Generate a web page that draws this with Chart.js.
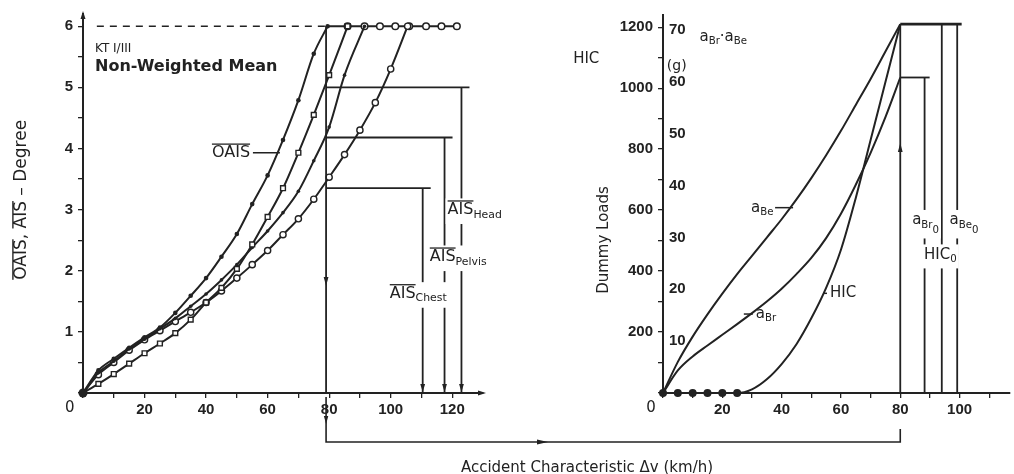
<!DOCTYPE html>
<html>
<head>
<meta charset="utf-8">
<script src="https://cdn.jsdelivr.net/npm/chart.js@4.4.1/dist/chart.umd.min.js"></script>
<style>
  html, body { margin: 0; padding: 0; background: #fff; }
  #wrap { position: relative; width: 1014px; height: 474px; overflow: hidden; }
  #left { position: absolute; left: 0; top: 0; }
  #right { position: absolute; left: 530px; top: 0; }
  #xtitle {
    position: absolute; left: 387px; width: 400px; top: 458px;
    text-align: center; font: 15px "DejaVu Sans", sans-serif; color: #222;
    line-height: 18px;
  }
</style>
</head>
<body>
<div id="wrap">
  <canvas id="left" width="530" height="474"></canvas>
  <canvas id="right" width="484" height="474"></canvas>
  <div id="xtitle">Accident Characteristic &Delta;v (km/h)</div>
</div>
<script>
// ---- left panel: mean AIS against delta-v ----
const leftDvTicks = [0, 10, 20, 30, 40, 50, 60, 70, 80, 90, 100, 110, 120];
const aisTicks = [0, 0.5, 1, 1.5, 2, 2.5, 3, 3.5, 4, 4.5, 5, 5.5, 6];

const oaisDv  = [0, 5, 10, 15, 20, 25, 30, 35, 40, 45, 50, 55, 60, 65, 70, 75, 79.5];
const oaisVal = [0, 0.37, 0.56, 0.74, 0.91, 1.07, 1.31, 1.59, 1.88, 2.23, 2.6, 3.09, 3.56, 4.14, 4.79, 5.55, 6];
const headDv  = [0, 5, 10, 15, 20, 25, 30, 35, 40, 45, 50, 55, 60, 65, 70, 75, 80, 86];
const headVal = [0, 0.15, 0.31, 0.48, 0.65, 0.81, 0.98, 1.2, 1.48, 1.72, 2.03, 2.43, 2.88, 3.35, 3.93, 4.55, 5.2, 6];
const pelvisDv  = [0, 5, 10, 15, 20, 25, 30, 35, 40, 45, 50, 55, 60, 65, 70, 75, 80, 85, 91.5];
const pelvisVal = [0, 0.33, 0.52, 0.72, 0.88, 1.05, 1.22, 1.42, 1.62, 1.85, 2.1, 2.38, 2.65, 2.95, 3.3, 3.8, 4.35, 5.2, 6];
const chestDv  = [0, 5, 10, 15, 20, 25, 30, 35, 40, 45, 50, 55, 60, 65, 70, 75, 80, 85, 90, 95, 100, 105.5];
const chestVal = [0, 0.3, 0.5, 0.7, 0.87, 1.02, 1.17, 1.32, 1.48, 1.67, 1.88, 2.1, 2.33, 2.59, 2.85, 3.17, 3.53, 3.9, 4.3, 4.75, 5.3, 6];
const topDv = [79.5, 86, 91.5, 96.5, 101.5, 106, 111.5, 116.5, 121.5];
const maxAis = 6;
const dashStartDv = 4.5;

const refDv = 79;                         // the 80 km/h marker as drawn
const aisAtRef = [5.0, 4.18, 3.35];       // head, pelvis, chest
const aisLimitDv = [123, 117.5, 110.4];

// ---- right panel: dummy loads against delta-v ----
const rightDvTicks = [0, 10, 20, 30, 40, 50, 60, 70, 80, 90, 100, 110];
const hicTicks = [0, 100, 200, 300, 400, 500, 600, 700, 800, 900, 1000, 1100, 1200];
const gTicks = [10, 20, 30, 40, 50, 60, 70];

const loadDv = [0, 5, 10, 15, 20, 25, 30, 35, 40, 45, 50, 55, 60, 65, 70, 75, 80];
const aBeVal = [0, 102, 185, 258, 326, 390, 450, 510, 570, 635, 705, 780, 860, 945, 1030, 1120, 1210];
const aBrVal = [0, 74, 120, 156, 191, 226, 262, 300, 342, 390, 443, 508, 588, 683, 788, 905, 1035];
const hicVal = [0, 0, 0, 0, 0, 0, 12, 45, 95, 160, 245, 345, 470, 640, 830, 1020, 1210];
const hicFlatPoints = 6;

const refDvRight = 80;
const limitDvRight = [88.2, 94, 99.2];    // a_Br0, HIC0, a_Be0
const limitLoad = [1035, 1210, 1210];
const hicMax = 1240;
const gMax = 72.9;

const ink = '#222';
const tickFont = { family: '"Liberation Sans", Arial, sans-serif', size: 15, weight: 'bold' };
const pts = (xs, ys) => xs.map((v, i) => ({ x: v, y: ys[i] }));
const lineDs = (data, extra) => Object.assign({
  data, showLine: true, borderColor: ink, borderWidth: 2, pointRadius: 0,
  fill: false, clip: false
}, extra);

// rich text: parts with overline / subscript
function drawRich(ctx, parts, x, y, size, weight, align, mask) {
  const fam = '"DejaVu Sans", sans-serif';
  let w = 0;
  const segs = parts.map(p => {
    const fs = p.sub ? size * 0.68 : size;
    ctx.font = `${weight} ${fs}px ${fam}`;
    const sw = ctx.measureText(p.t).width;
    const s = { p, fs, sw, off: w };
    w += sw;
    return s;
  });
  const x0 = align === 'center' ? x - w / 2 : align === 'right' ? x - w : x;
  if (mask) {
    const deepest = Math.max(0, ...parts.map(p => p.sub || 0));
    ctx.save();
    ctx.fillStyle = '#fff';
    ctx.fillRect(x0 - 2, y - size * 0.7, w + 4, size * 1.3 + deepest * size * 0.3);
    ctx.restore();
  }
  segs.forEach(s => {
    ctx.font = `${weight} ${s.fs}px ${fam}`;
    const dy = s.p.sub ? size * 0.32 * s.p.sub : 0;
    ctx.fillText(s.p.t, x0 + s.off, y + dy);
    if (s.p.over) ctx.fillRect(x0 + s.off, y - size * 0.58, s.sw, Math.max(1.2, size * 0.08));
  });
}

function arrowHead(ctx, x, y, dir, len, half) {
  ctx.beginPath();
  ctx.moveTo(x, y);
  if (dir === 'down') { ctx.lineTo(x - half, y - len); ctx.lineTo(x + half, y - len); }
  if (dir === 'up') { ctx.lineTo(x - half, y + len); ctx.lineTo(x + half, y + len); }
  if (dir === 'right') { ctx.lineTo(x - len, y - half); ctx.lineTo(x - len, y + half); }
  ctx.closePath();
  ctx.fill();
}

const notesPlugin = {
  id: 'notes',
  afterDatasetsDraw(chart, args, opts) {
    const { ctx, scales } = chart;
    ctx.save();
    ctx.textBaseline = 'middle';
    ctx.fillStyle = ink;
    ctx.strokeStyle = ink;
    (opts.items || []).forEach(n => {
      const px = scales.x.getPixelForValue(n.x);
      const py = scales.y.getPixelForValue(n.y);
      ctx.save();
      ctx.translate(px, py);
      if (n.rotate) ctx.rotate(n.rotate);
      drawRich(ctx, n.parts, 0, 0, n.size || 15, n.weight || 'normal', n.align || 'left', n.mask);
      if (n.leader) {
        ctx.lineWidth = 1.5;
        ctx.beginPath();
        ctx.moveTo(n.leader[0], 0);
        ctx.lineTo(n.leader[1], 0);
        ctx.stroke();
      }
      ctx.restore();
    });
    ctx.restore();
  }
};

const extrasPlugin = {
  id: 'extras',
  afterDatasetsDraw(chart, args, opts) {
    const { ctx, scales, chartArea } = chart;
    const { x, y } = scales;
    ctx.save();
    ctx.strokeStyle = ink;
    ctx.fillStyle = ink;
    ctx.lineWidth = 1.6;
    const low = chartArea.bottom + 49;
    if (opts.side === 'left') {
      const bx = x.getPixelForValue(refDv);
      ctx.beginPath();
      ctx.moveTo(bx, chartArea.bottom + 4);
      ctx.lineTo(bx, low);
      ctx.lineTo(chart.width, low);
      ctx.stroke();
      arrowHead(ctx, bx, chartArea.bottom + 31, 'down', 8, 2.2);
      arrowHead(ctx, bx, y.getPixelForValue(1.75), 'down', 9, 2.4);
      aisLimitDv.forEach(v => arrowHead(ctx, x.getPixelForValue(v), chartArea.bottom - 1, 'down', 8, 2.4));
      arrowHead(ctx, chartArea.left, chartArea.top - 3, 'up', 8, 2.5);
      arrowHead(ctx, chartArea.right + 3, chartArea.bottom, 'right', 8, 2.5);
    } else {
      const bx = x.getPixelForValue(refDvRight);
      ctx.beginPath();
      ctx.moveTo(0, low);
      ctx.lineTo(bx, low);
      ctx.lineTo(bx, chartArea.bottom + 36);
      ctx.stroke();
      arrowHead(ctx, 18, low, 'right', 11, 2.6);
      arrowHead(ctx, bx, y.getPixelForValue(820), 'up', 9, 2.4);
    }
    ctx.restore();
  }
};

function axisSide(list, labelFn, extra) {
  return Object.assign({
    type: 'linear',
    afterBuildTicks: s => { s.ticks = list.map(v => ({ value: v })); },
    ticks: { callback: labelFn, font: tickFont, color: ink, autoSkip: false, maxRotation: 0 },
    grid: { display: true, drawOnChartArea: false, drawTicks: true, tickLength: 5, color: ink, lineWidth: 1.3 },
    border: { display: true, color: ink, width: 2 }
  }, extra);
}

// ---------- left chart ----------
const leftSets = [];
leftSets.push(lineDs([{ x: dashStartDv, y: maxAis }, { x: refDv, y: maxAis }], { borderWidth: 1.4, borderDash: [7, 6] }));
aisAtRef.forEach((lv, i) => {
  leftSets.push(lineDs([{ x: refDv, y: lv }, { x: aisLimitDv[i] + 2.6, y: lv }], { borderWidth: 1.8 }));
  leftSets.push(lineDs([{ x: aisLimitDv[i], y: lv }, { x: aisLimitDv[i], y: 0 }], { borderWidth: 1.8 }));
});
leftSets.push(lineDs([{ x: refDv, y: maxAis }, { x: refDv, y: 0 }], { borderWidth: 1.8 }));
leftSets.push(lineDs(pts(oaisDv, oaisVal), {
  cubicInterpolationMode: 'monotone',
  pointRadius: c => c.dataIndex === 0 ? 4.5 : 2.3, pointBackgroundColor: ink, pointBorderWidth: 0
}));
leftSets.push(lineDs(pts(headDv, headVal), {
  cubicInterpolationMode: 'monotone', pointStyle: 'rect',
  pointRadius: c => c.dataIndex === 0 ? 0 : 3.4, pointBackgroundColor: '#fff', pointBorderColor: ink, pointBorderWidth: 1.4
}));
leftSets.push(lineDs(pts(pelvisDv, pelvisVal), {
  cubicInterpolationMode: 'monotone',
  pointRadius: c => c.dataIndex === 0 ? 0 : 1.8, pointBackgroundColor: ink, pointBorderWidth: 0
}));
leftSets.push(lineDs(pts(chestDv, chestVal), {
  cubicInterpolationMode: 'monotone',
  pointRadius: c => c.dataIndex === 0 ? 0 : 3.1, pointBackgroundColor: '#fff', pointBorderColor: ink, pointBorderWidth: 1.4
}));
leftSets.push(lineDs(topDv.map(v => ({ x: v, y: maxAis })), {
  pointRadius: c => c.dataIndex === 0 ? 0 : 3.3, pointBackgroundColor: '#fff', pointBorderColor: ink, pointBorderWidth: 1.5
}));

new Chart(document.getElementById('left'), {
  type: 'scatter',
  data: { datasets: leftSets },
  plugins: [extrasPlugin, notesPlugin],
  options: {
    responsive: false, animation: false, devicePixelRatio: 1,
    layout: { padding: { left: 0, right: 47, top: 10, bottom: 0 } },
    plugins: {
      legend: { display: false }, tooltip: { enabled: false },
      extras: { side: 'left' },
      notes: {
        items: [
          { x: -19.8, y: 3.16, rotate: -Math.PI / 2, align: 'center', size: 17,
            parts: [{ t: 'OAIS', over: true }, { t: ', ' }, { t: 'AIS', over: true }, { t: ' \u2013 Degree' }] },
          { x: 3.9, y: 5.63, size: 12, parts: [{ t: 'KT I/III' }] },
          { x: 3.9, y: 5.34, size: 16, weight: 'bold', parts: [{ t: 'Non-Weighted Mean' }] },
          { x: 41.9, y: 3.93, size: 16, parts: [{ t: 'OAIS', over: true }], leader: [41, 68] },
          { x: 118.5, y: 3.0, size: 16, mask: true, parts: [{ t: 'AIS', over: true }, { t: 'Head', sub: 1 }] },
          { x: 112.7, y: 2.23, size: 16, mask: true, parts: [{ t: 'AIS', over: true }, { t: 'Pelvis', sub: 1 }] },
          { x: 99.7, y: 1.63, size: 16, mask: true, parts: [{ t: 'AIS', over: true }, { t: 'Chest', sub: 1 }] },
          { x: -4.3, y: -0.25, size: 15, align: 'center', parts: [{ t: '0' }] }
        ]
      }
    },
    scales: {
      x: axisSide(leftDvTicks, v => (v > 0 && v % 20 === 0) ? v : '', {
        min: 0, max: 130, afterFit: s => { s.height = 81; }
      }),
      y: axisSide(aisTicks, v => (v > 0 && Number.isInteger(v)) ? v : '', {
        min: 0, max: 6.2, afterFit: s => { s.width = 83; }
      })
    }
  }
});
Chart.getChart('left').options.scales.x.ticks.padding = 3;
Chart.getChart('left').options.scales.y.ticks.padding = 5;
Chart.getChart('left').update();

// ---------- right chart ----------
const rightSets = [];
rightSets.push(lineDs([{ x: refDvRight, y: limitLoad[1] }, { x: refDvRight, y: 0 }], { borderWidth: 1.8 }));
limitDvRight.forEach((v, i) => {
  rightSets.push(lineDs([{ x: v, y: limitLoad[i] }, { x: v, y: 0 }], { borderWidth: 1.8 }));
});
rightSets.push(lineDs([{ x: refDvRight, y: limitLoad[0] }, { x: limitDvRight[0] + 1.7, y: limitLoad[0] }], { borderWidth: 1.8 }));
rightSets.push(lineDs([{ x: refDvRight, y: limitLoad[1] }, { x: limitDvRight[2] + 1.5, y: limitLoad[1] }], { borderWidth: 2.6 }));
rightSets.push(lineDs(pts(loadDv, aBeVal), { cubicInterpolationMode: 'monotone' }));
rightSets.push(lineDs(pts(loadDv, aBrVal), { cubicInterpolationMode: 'monotone' }));
rightSets.push(lineDs(pts(loadDv, hicVal), {
  cubicInterpolationMode: 'monotone',
  pointRadius: c => c.dataIndex < hicFlatPoints ? 4 : 0, pointBackgroundColor: ink, pointBorderWidth: 0
}));

new Chart(document.getElementById('right'), {
  type: 'scatter',
  data: { datasets: rightSets },
  plugins: [extrasPlugin, notesPlugin],
  options: {
    responsive: false, animation: false, devicePixelRatio: 1,
    layout: { padding: { left: 60, right: 0, top: 10, bottom: 0 } },
    plugins: {
      legend: { display: false }, tooltip: { enabled: false },
      extras: { side: 'right' },
      notes: {
        items: [
          { x: -20, y: 502, rotate: -Math.PI / 2, align: 'center', size: 15, parts: [{ t: 'Dummy Loads' }] },
          { x: -30.3, y: 1094, size: 15, parts: [{ t: 'HIC' }] },
          { x: 1.3, y: 1071, size: 14, parts: [{ t: '(g)' }] },
          { x: 12.3, y: 1168, size: 15, parts: [{ t: 'a' }, { t: 'Br', sub: 1 }, { t: '\u00b7a' }, { t: 'Be', sub: 1 }] },
          { x: 29.7, y: 608, size: 15, parts: [{ t: 'a' }, { t: 'Be', sub: 1 }], leader: [24, 42] },
          { x: 31.3, y: 259, size: 15, parts: [{ t: 'a' }, { t: 'Br', sub: 1 }], leader: [-12, -3] },
          { x: 56.3, y: 327, size: 15, parts: [{ t: 'HIC' }], leader: [-6, -3] },
          { x: 84.0, y: 566, size: 15, mask: true, parts: [{ t: 'a' }, { t: 'Br', sub: 1 }, { t: '0', sub: 2 }] },
          { x: 96.6, y: 566, size: 15, mask: true, parts: [{ t: 'a' }, { t: 'Be', sub: 1 }, { t: '0', sub: 2 }] },
          { x: 88.0, y: 453, size: 15, mask: true, parts: [{ t: 'HIC' }, { t: '0', sub: 1 }] },
          { x: -4, y: -49, size: 15, align: 'center', parts: [{ t: '0' }] }
        ]
      }
    },
    scales: {
      x: axisSide(rightDvTicks, v => (v > 0 && v % 20 === 0) ? v : '', {
        min: 0, max: 117, afterFit: s => { s.height = 81; }
      }),
      y: axisSide(hicTicks, v => (v > 0 && v % 200 === 0) ? v : '', {
        min: 0, max: hicMax, weight: 1, afterFit: s => { s.width = 73; }
      }),
      y2: {
        type: 'linear', position: 'left', weight: 0, min: 0, max: gMax,
        afterBuildTicks: s => { s.ticks = gTicks.map(v => ({ value: v })); },
        afterFit: s => { s.width = 0; },
        grid: { display: false }, border: { display: false },
        ticks: { mirror: true, padding: 6, font: tickFont, color: ink }
      }
    }
  }
});
const rc = Chart.getChart('right');
rc.options.scales.x.ticks.padding = 3;
rc.options.scales.y.ticks.padding = 5;
rc.update();
</script>
</body>
</html>
